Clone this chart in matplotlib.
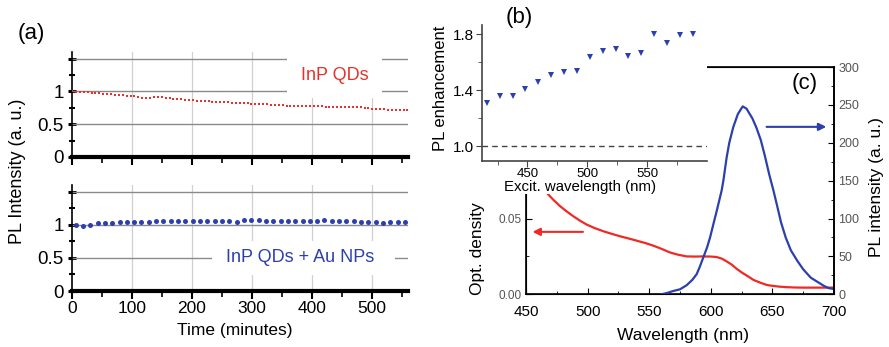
import numpy as np
import matplotlib
matplotlib.use('Agg')
import matplotlib.pyplot as plt
from matplotlib.ticker import MultipleLocator, FixedLocator, FixedFormatter
from matplotlib.patches import Rectangle

plt.rcParams['font.family'] = ['Liberation Sans', 'DejaVu Sans']

# ---------------- data ----------------
# (a) top: InP QDs, sampled every 6.5 minutes
red_step = 6.5
red_pl = [1.000, 0.998, 0.995, 0.990, 0.985, 0.980, 0.975, 0.970, 0.965, 0.960, 0.955, 0.950, 0.945, 0.940, 0.935, 0.930,
          0.922, 0.912, 0.903, 0.900, 0.905, 0.912, 0.915, 0.912, 0.905, 0.897, 0.890, 0.884, 0.877, 0.872, 0.867, 0.863,
          0.858, 0.855, 0.851, 0.848, 0.845, 0.842, 0.838, 0.835, 0.832, 0.829, 0.826, 0.823, 0.820, 0.816, 0.812,
          0.810, 0.807, 0.804, 0.801, 0.797, 0.793, 0.790, 0.787, 0.784, 0.781, 0.779, 0.776, 0.774, 0.773, 0.772,
          0.772, 0.771, 0.770, 0.769, 0.768, 0.768, 0.767, 0.767, 0.766, 0.765, 0.764, 0.762, 0.758, 0.751, 0.744, 0.738,
          0.733, 0.729, 0.725, 0.722, 0.719, 0.716, 0.713, 0.711, 0.710]
red_time = np.arange(len(red_pl)) * red_step

# (a) bottom: InP QDs + Au NPs, sampled every ~12.2 minutes starting at 6
blue_start, blue_step = 6.0, 12.2
blue_pl = [0.990, 0.985, 1.000, 1.020, 1.025, 1.030, 1.035, 1.040, 1.040, 1.045, 1.045, 1.050, 1.050, 1.050, 1.050,
           1.055, 1.055, 1.050, 1.060, 1.060, 1.060, 1.055, 1.045, 1.075, 1.075, 1.065, 1.060, 1.060, 1.050, 1.050,
           1.050, 1.050, 1.050, 1.055, 1.065, 1.060, 1.055, 1.050, 1.050, 1.045, 1.040, 1.045, 1.020, 1.035, 1.035, 1.035]
blue_time = blue_start + np.arange(len(blue_pl)) * blue_step

# (b) PL enhancement vs excitation wavelength
excit_wl = [416, 427, 437.5, 448, 459, 470, 480.5, 491, 502, 513, 523.6, 534.4, 545, 556, 566.7, 577.8, 588]
enhancement = [1.31, 1.358, 1.36, 1.406, 1.456, 1.506, 1.528, 1.54, 1.635, 1.683, 1.695, 1.645, 1.67, 1.80, 1.735, 1.795, 1.80]

# (c) optical density
od_wl = [462, 466.8, 472, 477.6, 483, 488.4, 494, 499.3, 506, 512.8, 520, 526.3, 533, 539.8, 547, 553.3, 560, 566.9,
         573, 580.4, 587, 593.9, 600, 604.7, 609, 612.9, 617, 621, 625.5, 630.5, 634.6, 641, 645.4, 648.1, 655, 661.6,
         668, 675.1, 690, 700]
od_val = [0.072, 0.067, 0.0625, 0.0582, 0.0547, 0.0515, 0.0485, 0.046, 0.0436, 0.0416, 0.0398, 0.0383, 0.0369, 0.0354,
          0.0338, 0.0321, 0.030, 0.0276, 0.0262, 0.025, 0.0249, 0.025, 0.0249, 0.0246, 0.0235, 0.0217, 0.0196, 0.0168,
          0.0142, 0.0117, 0.0095, 0.0074, 0.0062, 0.0058, 0.0051, 0.0047, 0.0045, 0.0044, 0.0044, 0.0044]

# (c) PL intensity
pl_wl = [560, 565, 569.6, 575, 580.4, 585, 588.5, 591, 593.9, 597, 599.4, 602, 604.8, 608.8, 610.2, 612.9, 615, 618.3,
         622, 625.9, 629, 633.8, 637, 640.6, 644, 647.3, 651, 654.1, 657, 660.8, 665, 670.3, 675, 681.1, 686, 691.9, 696, 700]
pl_val = [0, 2, 4.4, 6.6, 12, 19, 26.5, 36, 48.6, 62, 75, 92, 110, 137, 150, 181, 200, 221,
          238, 248, 245, 232, 220, 203.5, 182, 159, 136, 115, 95, 75, 58, 44, 33, 22, 17, 11, 8, 7]

RED = '#e8302c'
BLUE = '#2b3fae'

W, H = 889, 347
fig = plt.figure(figsize=(W / 100, H / 100), dpi=100)


def fx(px):
    return px / W


def fy(py):
    return 1 - py / H


# ---------------- panel (a) ----------------
def style_a(ax, show_xlabels):
    ax.set_xlim(0, 560)
    ax.set_ylim(0, 1.6)
    for s in ['top', 'right']:
        ax.spines[s].set_visible(False)
    ax.spines['bottom'].set_linewidth(3)
    ax.spines['left'].set_linewidth(1.2)
    ax.xaxis.set_major_locator(MultipleLocator(100))
    ax.xaxis.set_minor_locator(MultipleLocator(50))
    ax.yaxis.set_major_locator(FixedLocator([0, 0.5, 1, 1.5]))
    ax.yaxis.set_major_formatter(FixedFormatter(['0', '0.5', '1', '']))
    ax.yaxis.set_minor_locator(MultipleLocator(0.25))
    ax.tick_params(axis='y', which='major', direction='inout', length=6, width=2.2, labelsize=13.5, pad=3)
    ax.tick_params(axis='y', which='minor', direction='inout', length=4, width=1.5)
    ax.tick_params(axis='x', which='major', direction='out', length=6, width=1.5, labelsize=12.5, pad=1,
                   labelbottom=show_xlabels)
    ax.tick_params(axis='x', which='minor', direction='out', length=4, width=1.2)
    ax.set_axisbelow(True)
    for xv in [100, 200, 300, 400, 500]:
        ax.axvline(xv, color='#d0d0d0', lw=0.9, zorder=0.5)
    for yv in [0.5, 1.0, 1.5]:
        ax.axhline(yv, color='#8a8a8a', lw=1.0, zorder=0.6)


ax_top = fig.add_axes([fx(72), fy(157), fx(336), 105 / H])
style_a(ax_top, False)
ax_top.add_patch(Rectangle((0.64, 0.5625), 0.283, 0.45, transform=ax_top.transAxes,
                           fc='white', ec='none', zorder=1, clip_on=False))
ax_top.plot(red_time, red_pl, ls='none', marker='s', ms=2.0, color=RED, mew=0, zorder=3)
ax_top.text(438, 1.24, 'InP QDs', color=RED, fontsize=13, ha='center', va='center', zorder=4)

ax_bot = fig.add_axes([fx(72), fy(291), fx(336), 106 / H])
style_a(ax_bot, True)
ax_bot.add_patch(Rectangle((0.417, 0.15), 0.544, 0.32, transform=ax_bot.transAxes,
                           fc='white', ec='none', zorder=1))
ax_bot.plot(blue_time, blue_pl, ls='none', marker='o', ms=3.6, color=BLUE, mew=0, zorder=3)
ax_bot.text(380, 0.51, 'InP QDs + Au NPs', color=BLUE, fontsize=13, ha='center', va='center', zorder=4)
ax_bot.set_xlabel('Time (minutes)', fontsize=12.5)
ax_bot.xaxis.set_label_coords(0.485, -0.30)

fig.text(fx(18), fy(171), 'PL Intensity (a. u.)', rotation=90, fontsize=13, ha='center', va='center')
fig.text(fx(31), fy(33), '(a)', fontsize=16, ha='center', va='center')

# ---------------- panel (c) ----------------
axc = fig.add_axes([fx(526), fy(294.3), fx(308), 227.3 / H])
axc.set_zorder(1)
axc.set_xlim(450, 700)
axc.set_ylim(0, 0.15)
axc.plot(od_wl, od_val, color='#ee2a24', lw=1.6)
axc.xaxis.set_major_locator(MultipleLocator(50))
axc.xaxis.set_minor_locator(MultipleLocator(25))
axc.yaxis.set_major_locator(FixedLocator([0.0, 0.05]))
axc.yaxis.set_major_formatter(FixedFormatter(['0.00', '0.05']))
axc.yaxis.set_minor_locator(FixedLocator([0.025]))
axc.tick_params(axis='both', which='both', direction='in')
axc.tick_params(axis='x', which='major', length=4, labelsize=11, pad=8)
axc.tick_params(axis='x', which='minor', length=2.5)
axc.tick_params(axis='y', which='major', length=4, labelsize=8.5, labelcolor='#555555', pad=3)
axc.tick_params(axis='y', which='minor', length=2.5)
for s in axc.spines.values():
    s.set_linewidth(1.2)
axc.set_xlabel('Wavelength (nm)', fontsize=12.5)
axc.xaxis.set_label_coords(0.51, -0.15)
axc.set_ylabel('Opt. density', fontsize=12.5)
axc.yaxis.set_label_coords(-0.133, 0.2)
axc.annotate('', xy=(453, 0.0412), xytext=(498.5, 0.0412),
             arrowprops=dict(arrowstyle='-|>', color='#ee2a24', lw=1.5, mutation_scale=11))

axc2 = axc.twinx()
axc2.set_zorder(2)
axc2.set_ylim(0, 300)
axc2.plot(pl_wl, pl_val, color=BLUE, lw=1.6)
axc2.yaxis.set_major_locator(MultipleLocator(50))
axc2.yaxis.set_minor_locator(MultipleLocator(25))
axc2.tick_params(axis='y', which='both', direction='in')
axc2.tick_params(axis='y', which='major', length=4, labelsize=9, labelcolor='#555555', pad=3)
axc2.tick_params(axis='y', which='minor', length=2.5)
axc2.spines['right'].set_linewidth(1.2)
axc2.set_ylabel('PL intensity (a. u.)', fontsize=12.5)
axc2.yaxis.set_label_coords(1.115, 0.47)
axc2.annotate('', xy=(696, 221), xytext=(643, 221),
              arrowprops=dict(arrowstyle='-|>', color=BLUE, lw=1.5, mutation_scale=11))

fig.text(fx(805), fy(84), '(c)', fontsize=16, ha='center', va='center', zorder=10)

# white cover for inset region
cover = Rectangle((fx(430), fy(194)), fx(707) - fx(430), 1 - fy(194), transform=fig.transFigure,
                  fc='white', ec='none', zorder=5)
fig.add_artist(cover)

# ---------------- panel (b) ----------------
axb = fig.add_axes([fx(482), fy(160.7), fx(225), 135.7 / H])
axb.set_zorder(6)
axb.set_facecolor('white')
axb.set_xlim(412, 600)
axb.set_ylim(0.895, 1.867)
for s in ['top', 'right']:
    axb.spines[s].set_visible(False)
for s in ['left', 'bottom']:
    axb.spines[s].set_color('#444444')
    axb.spines[s].set_linewidth(1.2)
axb.axhline(1.0, ls=(0, (4, 3)), color='#444444', lw=1.0)
axb.plot(excit_wl, enhancement, ls='none', marker='v', ms=4, color=BLUE, mew=0)
axb.yaxis.set_major_locator(FixedLocator([1.0, 1.4, 1.8]))
axb.yaxis.set_major_formatter(FixedFormatter(['1.0', '1.4', '1.8']))
axb.yaxis.set_minor_locator(FixedLocator([1.2, 1.6]))
axb.xaxis.set_major_locator(FixedLocator([450, 500, 550]))
axb.xaxis.set_minor_locator(FixedLocator([425, 475, 525, 575]))
axb.tick_params(axis='both', which='both', direction='out', color='#444444')
axb.tick_params(axis='y', which='major', length=4, labelsize=11, pad=2)
axb.tick_params(axis='y', which='minor', length=3)
axb.tick_params(axis='x', which='major', length=4, labelsize=9.5, pad=1)
axb.tick_params(axis='x', which='minor', length=3)
axb.set_ylabel('PL enhancement', fontsize=12)
axb.yaxis.set_label_coords(-0.151, 0.536)
axb.set_xlabel('Excit. wavelength (nm)', fontsize=10.8)
axb.xaxis.set_label_coords(0.436, -0.145)

fig.text(fx(519), fy(18), '(b)', fontsize=16, ha='center', va='center', zorder=10)

fig.savefig('out.png', dpi=100)
